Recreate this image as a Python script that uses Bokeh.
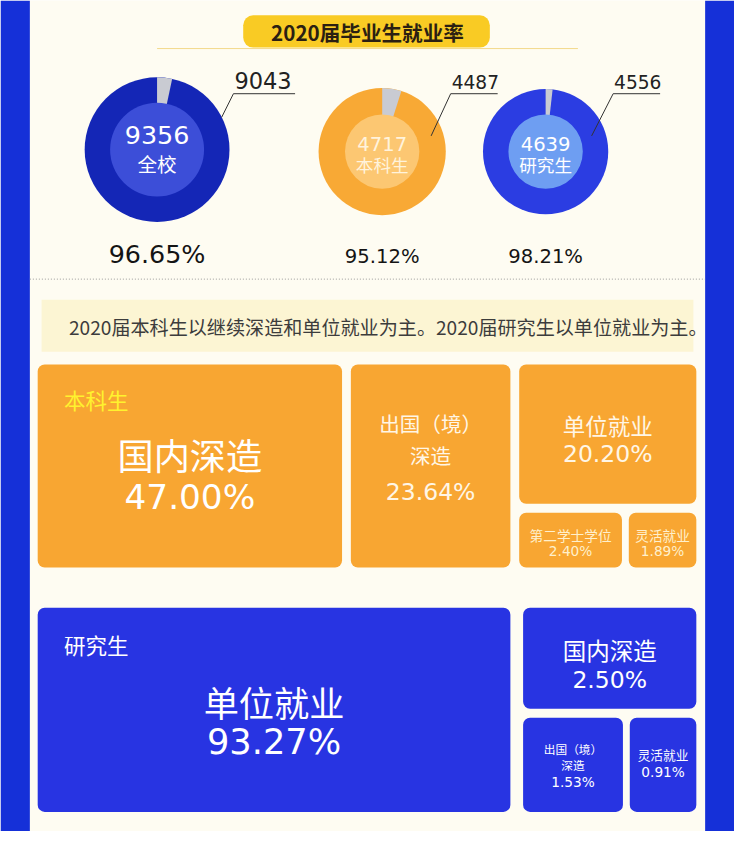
import math
from bokeh.plotting import figure
from bokeh.models import Range1d
from bokeh.core.properties import value
from bokeh.embed import file_html
from bokeh.resources import INLINE

# ---------------- DATA ----------------
TITLE = "2020届毕业生就业率"
DONUT_GROUPS = ["全校", "本科生", "研究生"]
DONUT_TOTAL = [9356, 4717, 4639]
DONUT_EMPLOYED = [9043, 4487, 4556]
DONUT_RATE = [96.65, 95.12, 98.21]

NOTE = "2020届本科生以继续深造和单位就业为主。2020届研究生以单位就业为主。"

UG_NAME = "本科生"
UG_CATS = ["国内深造", "出国（境）\n深造", "单位就业", "第二学士学位", "灵活就业"]
UG_VALUES = [47.00, 23.64, 20.20, 2.40, 1.89]

PG_NAME = "研究生"
PG_CATS = ["单位就业", "国内深造", "出国（境）\n深造", "灵活就业"]
PG_VALUES = [93.27, 2.50, 1.53, 0.91]

# ---------------- STYLE / LAYOUT ----------------
FW, FH = 734, 831
S = FW / 750.0          # screen scale of the layout


def fs(px):
    return f"{px * S:.1f}px"


CJK = value("Noto Sans CJK SC")
NUM = value("DejaVu Sans")
BLUE_EDGE = "#1530D8"
CREAM = "#FEFCF2"
ORANGE = "#F8A632"
BOXBLUE = "#2834E2"

DONUT_CX = [160, 390, 557]
DONUT_CY = [152, 154, 154]
R_OUT = [74, 65, 64]
R_IN = [48, 38, 38]
NUM_DY = [-15, -8, -8]
GRP_DY = [14, 13, 13]
RING_COL = ["#1426B6", "#F8A935", "#2B3DE2"]
HOLE_COL = ["#3C4ED8", "#FCC772", "#6E9EF2"]
HOLE_TXT = ["#FFFFFF", "#FFF3DC", "#FFFFFF"]
NUM_SIZE = [26, 20, 20]
GRP_SIZE = [20, 18, 18]
RATE_SIZE = [26, 20, 20]
RATE_Y = [258, 261, 261]
CALL_X = [239, 461, 627]      # callout label left edge
CALL_W = [63, 48, 48]         # underline length
CALL_END = [(226, 119), (440, 138), (604, 138)]
CALL_SIZE = [23, 19, 19]
CALL_Y = [82, 83, 83]

# boxes: left, right, top, bottom, cat_y, line_gap, cat_size, val_y, val_size, colour
UG_BOX = [
    (38, 349, 371, 578, 462, 0, 37, 506, 35, "#FFFFFF"),
    (358, 521, 371, 578, 431, 32, 21, 501, 24, "#FFF6E6"),
    (530, 711, 371, 513, 433, 0, 23, 462, 24, "#FFF6E6"),
    (530, 635, 522, 578, 545, 0, 14, 561, 14, "#FFF0CC"),
    (642, 711, 522, 578, 545, 0, 14, 561, 14, "#FFF0CC"),
]
PG_BOX = [
    (38, 521, 619, 827, 714, 0, 36, 755, 36, "#FFFFFF"),
    (534, 711, 619, 722, 662, 0, 24, 693, 24, "#FFFFFF"),
    (534, 636, 731, 827, 762, 17, 12, 797, 14, "#FFFFFF"),
    (643, 711, 731, 827, 769, 0, 13, 786, 14, "#FFFFFF"),
]

p = figure(width=FW, height=FH, x_range=Range1d(0, 750), y_range=Range1d(847, 0),
           output_backend="svg", toolbar_location=None, min_border=0,
           x_axis_type=None, y_axis_type=None)
p.grid.visible = False
p.outline_line_color = None
p.background_fill_color = CREAM
p.border_fill_color = CREAM

# side borders
p.quad(left=[0, 720], right=[30, 750], top=[0, 0], bottom=[847, 847],
       fill_color=BLUE_EDGE, line_color=None)

# title pill
p.quad(left=[248], right=[500], top=[15], bottom=[48], fill_color="#F9CB24",
       line_color=None, border_radius=10)
p.segment(x0=[160], y0=[49], x1=[590], y1=[49], line_color="#F3D98A", line_width=1)
p.text(x=[375], y=[32], text=[TITLE], text_font=CJK, text_font_size=fs(21),
       text_font_style="bold", text_color="#2B1F12", text_align="center",
       text_baseline="middle")

# donuts
for i in range(3):
    frac = 1 - DONUT_EMPLOYED[i] / DONUT_TOTAL[i]
    cx, cy = DONUT_CX[i], DONUT_CY[i]
    p.circle(x=[cx], y=[cy], radius=R_OUT[i] * S, radius_units="screen",
             fill_color=RING_COL[i], line_color=None)
    p.wedge(x=[cx], y=[cy], radius=R_OUT[i] * S, radius_units="screen",
            start_angle=math.pi / 2, end_angle=math.pi / 2 - frac * 2 * math.pi,
            direction="clock", fill_color="#C9CBD2", line_color=None)
    p.circle(x=[cx], y=[cy], radius=R_IN[i] * S, radius_units="screen",
             fill_color=HOLE_COL[i], line_color=None)
    p.text(x=[cx], y=[cy + NUM_DY[i]], text=[str(DONUT_TOTAL[i])], text_font=NUM,
           text_font_size=fs(NUM_SIZE[i]), text_color=HOLE_TXT[i],
           text_align="center", text_baseline="middle")
    p.text(x=[cx], y=[cy + GRP_DY[i]], text=[DONUT_GROUPS[i]], text_font=CJK,
           text_font_size=fs(GRP_SIZE[i]), text_color=HOLE_TXT[i],
           text_align="center", text_baseline="middle")
    # callout
    lx = CALL_X[i]
    p.segment(x0=[lx - 1], y0=[95], x1=[lx - 1 + CALL_W[i]], y1=[95],
              line_color="#333333", line_width=1)
    p.segment(x0=[lx - 1], y0=[95], x1=[CALL_END[i][0]], y1=[CALL_END[i][1]],
              line_color="#333333", line_width=1)
    p.text(x=[lx], y=[CALL_Y[i]], text=[str(DONUT_EMPLOYED[i])], text_font=NUM,
           text_font_size=fs(CALL_SIZE[i]), text_color="#222222",
           text_align="left", text_baseline="middle")
    p.text(x=[cx], y=[RATE_Y[i]], text=[f"{DONUT_RATE[i]:.2f}%"], text_font=NUM,
           text_font_size=fs(RATE_SIZE[i]), text_color="#141414",
           text_align="center", text_baseline="middle")

# dotted separator
p.segment(x0=[30], y0=[284], x1=[720], y1=[284], line_color="#9A9A9A",
          line_width=1, line_dash="1 2")

# note band
p.quad(left=[42], right=[708], top=[305], bottom=[358], fill_color="#FCF5D3",
       line_color=None)
p.text(x=[70], y=[333], text=[NOTE], text_font=CJK, text_font_size=fs(19.5),
       text_color="#3C3C3C", text_align="left", text_baseline="middle")


def draw_panel(cats, vals, boxes, color, name, name_y, name_color):
    for cat, val, b in zip(cats, vals, boxes):
        l, r, t, btm, cy, gap, csz, vy, vsz, ccol = b
        p.quad(left=[l], right=[r], top=[t], bottom=[btm], fill_color=color,
               line_color=None, border_radius=7)
        cx = (l + r) / 2
        for k, line in enumerate(cat.split("\n")):
            p.text(x=[cx], y=[cy + k * gap], text=[line], text_font=CJK,
                   text_font_size=fs(csz), text_color=ccol, text_align="center",
                   text_baseline="middle")
        p.text(x=[cx], y=[vy], text=[f"{val:.2f}%"], text_font=NUM,
               text_font_size=fs(vsz), text_color=ccol, text_align="center",
               text_baseline="middle")
    p.text(x=[65], y=[name_y], text=[name], text_font=CJK, text_font_size=fs(22),
           text_color=name_color, text_align="left", text_baseline="middle")


draw_panel(UG_CATS, UG_VALUES, UG_BOX, ORANGE, UG_NAME, 407, "#FFF22E")
draw_panel(PG_CATS, PG_VALUES, PG_BOX, BOXBLUE, PG_NAME, 656, "#FFFFFF")

open("out.html", "w").write(file_html(p, INLINE))
